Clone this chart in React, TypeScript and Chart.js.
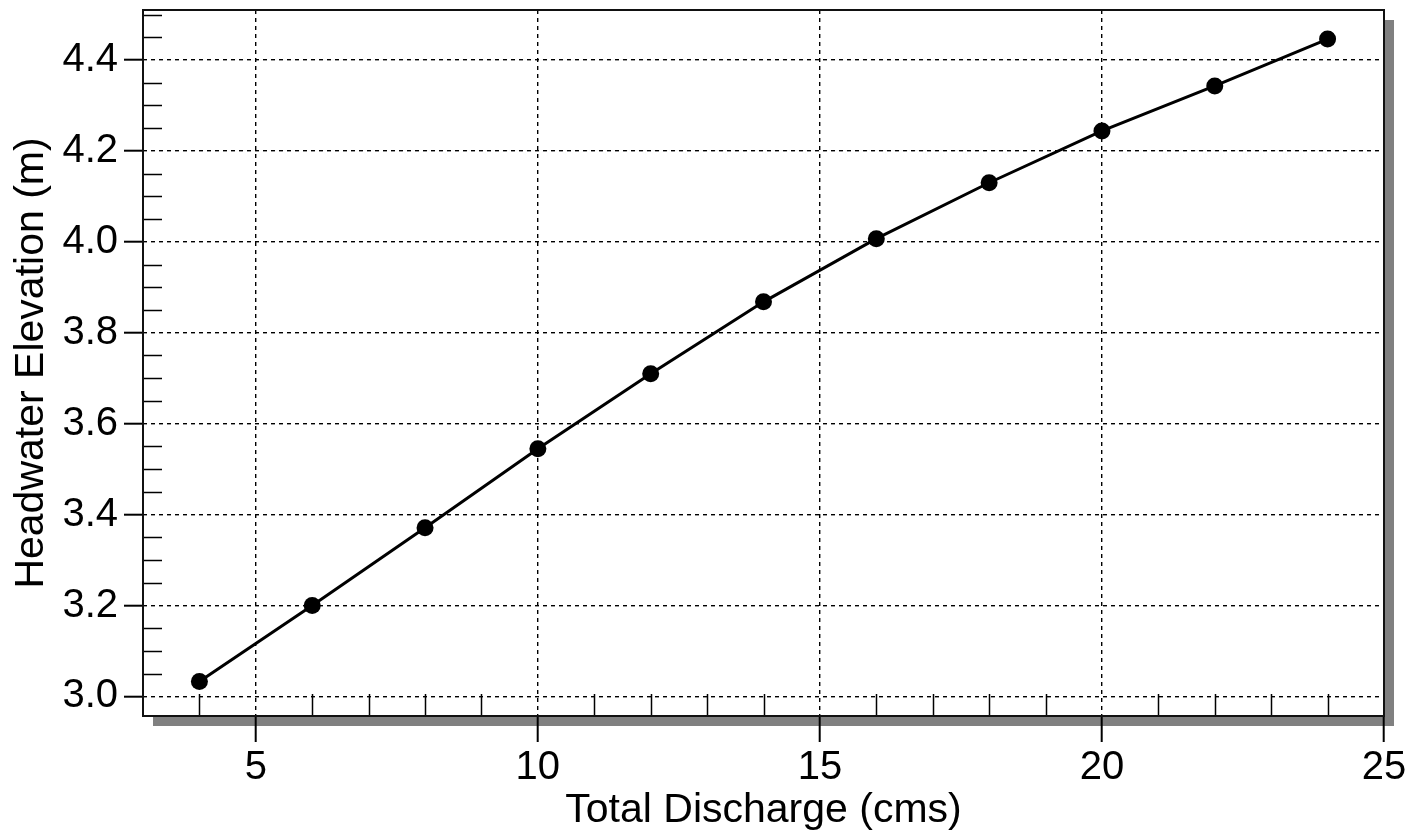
import React, { useEffect, useRef } from "react";
import { Chart, registerables } from "chart.js";

Chart.register(...registerables);

// ---- data ----
const discharge = [4, 6, 8, 10, 12, 14, 16, 18, 20, 22, 24];
const elevation = [3.033, 3.2, 3.371, 3.545, 3.71, 3.868, 4.007, 4.13, 4.244, 4.343, 4.446];
const xTicks = [5, 10, 15, 20, 25];
const yTicks = [3.0, 3.2, 3.4, 3.6, 3.8, 4.0, 4.2, 4.4];
const xMinorTicks = [4, 6, 7, 8, 9, 11, 12, 13, 14, 16, 17, 18, 19, 21, 22, 23, 24];
const yMinorTicks = [3.05, 3.1, 3.15, 3.25, 3.3, 3.35, 3.45, 3.5, 3.55, 3.65, 3.7, 3.75, 3.85, 3.9, 3.95, 4.05, 4.1, 4.15, 4.25, 4.3, 4.35, 4.45, 4.5];
const xTitle = "Total Discharge (cms)";
const yTitle = "Headwater Elevation (m)";
const xMin = 3.0;
const xMax = 25.0;
const yMin = 2.957;
const yMax = 4.51;

const FONT = "'Liberation Sans', Arial, sans-serif";

const framePlugin = {
  id: "frame",
  beforeDraw(chart: any) {
    const { ctx, chartArea: a } = chart;
    ctx.save();
    ctx.fillStyle = "#ffffff";
    ctx.fillRect(0, 0, chart.width, chart.height);
    ctx.fillStyle = "#808080";
    ctx.fillRect(a.left + 10, a.top + 10, a.right - a.left, a.bottom - a.top);
    ctx.fillStyle = "#ffffff";
    ctx.fillRect(a.left, a.top, a.right - a.left, a.bottom - a.top);
    ctx.restore();
  },
  afterDraw(chart: any) {
    const { ctx, chartArea: a } = chart;
    const xs = chart.scales.x;
    const ys = chart.scales.y;
    ctx.save();
    ctx.strokeStyle = "#000";
    ctx.lineWidth = 1.5;
    ctx.setLineDash([]);
    ctx.beginPath();
    xMinorTicks.forEach((v) => {
      const px = Math.round(xs.getPixelForValue(v)) + 0.5;
      ctx.moveTo(px, a.bottom);
      ctx.lineTo(px, a.bottom - 22);
    });
    yMinorTicks.forEach((v) => {
      const py = Math.round(ys.getPixelForValue(v)) + 0.5;
      ctx.moveTo(a.left, py);
      ctx.lineTo(a.left + 19, py);
    });
    ctx.stroke();
    ctx.lineWidth = 2;
    ctx.strokeStyle = "#111";
    ctx.strokeRect(a.left, a.top, a.right - a.left, a.bottom - a.top);
    ctx.restore();
  },
};

export default function App() {
  const ref = useRef<HTMLCanvasElement | null>(null);
  useEffect(() => {
    if (!ref.current) return;
    const chart = new Chart(ref.current, {
      type: "line",
      data: {
        datasets: [
          {
            data: discharge.map((x, i) => ({ x, y: elevation[i] })),
            borderColor: "#000",
            backgroundColor: "#000",
            borderWidth: 3,
            pointRadius: 8.5,
            pointBorderWidth: 0,
            pointBackgroundColor: "#000",
            tension: 0,
          },
        ],
      },
      options: {
        responsive: false,
        animation: false,
        layout: { padding: { top: 10, right: 39, left: 0, bottom: 0 } },
        plugins: { legend: { display: false }, tooltip: { enabled: false } },
        scales: {
          x: {
            type: "linear",
            min: xMin,
            max: xMax,
            afterBuildTicks: (s: any) => {
              s.ticks = xTicks.map((v) => ({ value: v }));
            },
            afterFit: (s: any) => {
              s.height = 120;
              s.paddingLeft = 0;
              s.paddingRight = 0;
            },
            grid: {
              color: "#000",
              lineWidth: 1.4,
              borderDash: [4, 4],
              tickLength: 26,
              tickWidth: 2,
              tickColor: "#000",
              tickBorderDash: [],
            } as any,
            border: { display: false, dash: [4, 4] },
            ticks: {
              color: "#000",
              font: { size: 40, family: FONT },
              padding: 2,
              callback: (v: any) => String(v),
            },
            title: {
              display: true,
              text: xTitle,
              color: "#000",
              font: { size: 41, family: FONT },
              padding: { top: 0, bottom: 1 },
            },
          },
          y: {
            type: "linear",
            min: yMin,
            max: yMax,
            afterBuildTicks: (s: any) => {
              s.ticks = yTicks.map((v) => ({ value: v }));
            },
            afterFit: (s: any) => {
              s.width = 143;
              s.paddingTop = 0;
              s.paddingBottom = 0;
            },
            grid: {
              color: "#000",
              lineWidth: 1.4,
              borderDash: [4, 4],
              tickLength: 19,
              tickWidth: 2,
              tickColor: "#000",
              tickBorderDash: [],
            } as any,
            border: { display: false, dash: [4, 4] },
            ticks: {
              color: "#000",
              font: { size: 40, family: FONT },
              padding: 6,
              callback: (v: any) => Number(v).toFixed(1),
            },
            title: {
              display: true,
              text: yTitle,
              color: "#000",
              font: { size: 41, family: FONT },
              padding: { top: 7, bottom: 0 },
            },
          },
        },
      },
      plugins: [framePlugin],
    });
    return () => chart.destroy();
  }, []);
  return (
    <div style={{ position: "fixed", left: 0, top: 0, width: 1423, height: 836, background: "#fff" }}>
      <canvas ref={ref} width={1423} height={836} />
    </div>
  );
}
